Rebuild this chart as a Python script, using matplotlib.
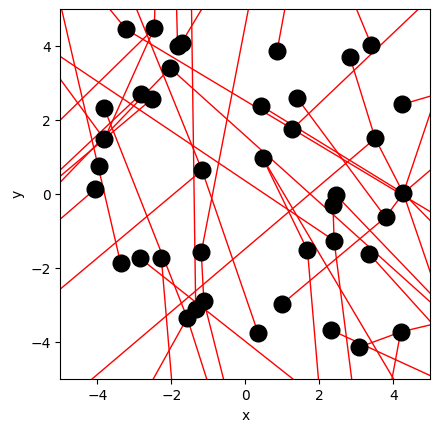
import matplotlib
matplotlib.use("Agg")
import matplotlib.pyplot as plt
from matplotlib.collections import LineCollection

pts_x = [-3.22, -2.46, -1.72, -1.83, -2.03, -2.82, -2.53, -3.81, -3.81, -3.95,
         -4.06, -1.17, 0.86, 2.83, 3.41, 0.43, 1.41, 4.24, 1.27, 3.51,
         0.47, 4.27, 2.45, -3.37, -2.84, -2.27, -1.19, -1.12, -1.34, -1.57,
         2.37, 3.79, 2.40, 1.68, 3.35, 1.00, 0.35, 2.32, 3.06, 4.20]
pts_y = [4.46, 4.49, 4.10, 4.01, 3.41, 2.71, 2.57, 2.32, 1.49, 0.76,
         0.14, 0.65, 3.88, 3.70, 4.03, 2.39, 2.59, 2.43, 1.76, 1.51,
         0.98, 0.03, -0.02, -1.86, -1.73, -1.71, -1.57, -2.89, -3.11, -3.34,
         -0.29, -0.62, -1.25, -1.51, -1.61, -2.96, -3.76, -3.67, -4.14, -3.72]

seg_x0 = [-3.37, -3.22, -3.22, 0.43, -1.17, -2.46, -2.46, -1.83, -1.72, -1.34,
          -1.19, 0.86, 3.41, 1.27, 2.83, 3.51, 4.24, 4.27, 4.27, 3.51,
          2.40, 0.47, 1.68, -2.03, -1.17, -2.84, 1.00, 3.79, 2.32, 3.06,
          4.20, 4.20, 3.35, -1.17, -4.06, -2.46, -3.81, -2.82, -2.53, -2.03,
          -3.81, -2.27, -1.57, -1.12, -1.57, -1.19, 2.40, 1.41, 0.47, 2.45,
          4.27, 4.27, 2.37]
seg_y0 = [-1.86, 4.46, 4.46, 2.39, 0.65, 4.49, 4.49, 4.01, 4.10, -3.11,
          -1.57, 3.88, 4.03, 1.76, 3.70, 1.51, 2.43, 0.03, 0.03, 1.51,
          -1.25, 0.98, -1.51, 3.41, 0.65, -1.73, -2.96, -0.62, -3.67, -4.14,
          -3.72, -3.72, -1.61, 0.65, 0.14, 4.49, 1.49, 2.71, 2.57, 3.41,
          2.32, -1.71, -3.34, -2.89, -3.34, -1.57, -1.25, 2.59, 0.98, -0.02,
          0.03, 0.03, -0.29]
seg_x1 = [-5.08, -4.07, 5.5, 4.27, -3.14, -2.43, -3.81, -1.87, -0.88, -1.46,
          0.18, 1.16, 2.80, 5.2, 3.51, 4.27, 5.5, 5.5, 5.5, -4.74,
          -5.5, 1.68, 2.02, 5.5, 0.35, 1.93, 3.79, 4.27, 5.5, 4.20,
          5.5, 3.87, 5.5, -5.5, -5.5, -5.5, -5.5, -5.5, -5.5, -5.5,
          -1.57, -1.95, -0.88, -0.46, -2.77, -1.12, 2.94, 3.79, 4.31, 5.5,
          5.5, 5.5, 2.40]
seg_y1 = [5.5, 5.5, -0.77, 0.03, 5.5, 5.5, 1.49, 5.5, 5.5, 5.5,
          5.5, 5.5, 5.5, 5.5, 1.51, 0.03, 2.80, 3.68, 1.08, -5.5,
          4.06, -1.51, -5.5, -3.36, -3.76, -5.5, -0.62, 0.03, -5.13, -3.72,
          -3.41, -5.5, -3.99, -2.98, -1.10, 1.52, 3.79, 0.19, 0.07, -0.19,
          -3.34, -5.5, -5.5, -5.5, -5.5, -2.89, -5.5, -0.62, -5.5, -3.20,
          -3.57, -1.22, -1.25]

fig = plt.figure(figsize=(4.39, 4.32), dpi=100)
ax = fig.add_axes([60.3 / 439, (432 - 379.3) / 432, 370 / 439, 370 / 432])

segs = [[(a, b), (c, d)] for a, b, c, d in zip(seg_x0, seg_y0, seg_x1, seg_y1)]
ax.add_collection(LineCollection(segs, colors="red", linewidths=1.0, zorder=1))
ax.plot(pts_x, pts_y, "o", color="black", markersize=12, zorder=2)

ax.set_xlim(-5, 5)
ax.set_ylim(-5, 5)
ax.set_aspect("equal")
ax.set_xticks([-4, -2, 0, 2, 4])
ax.set_yticks([-4, -2, 0, 2, 4])
ax.set_xlabel("x")
ax.set_ylabel("y")

fig.savefig("out.png", dpi=100)
